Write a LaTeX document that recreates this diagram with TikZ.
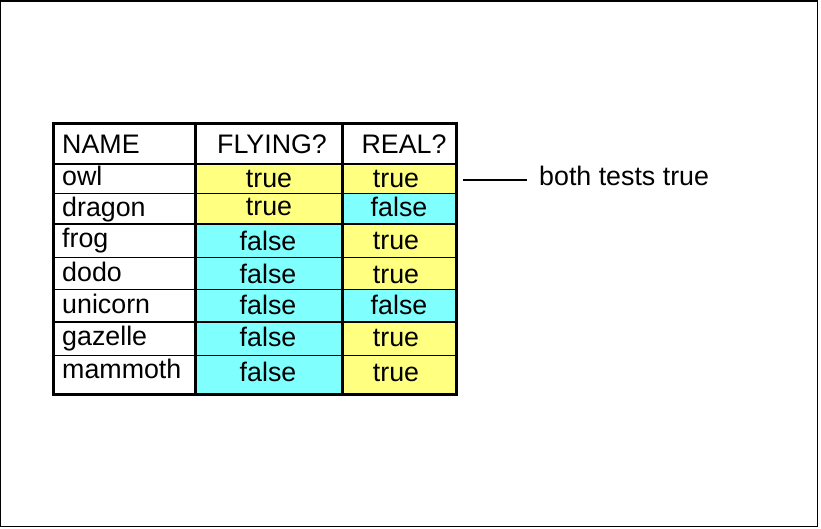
\documentclass[tikz,border=0pt]{standalone}
\usepackage{fontspec}
\setmainfont{Liberation Sans}
\definecolor{cyel}{RGB}{255,255,128}
\definecolor{ccyan}{RGB}{128,255,255}
\begin{document}
\begin{tikzpicture}[x=1pt,y=-1pt,
  txt/.style={inner sep=0pt,font=\fontsize{26.8}{31}\selectfont},
  namecell/.style={txt,anchor=base west},
  valcell/.style={txt,anchor=base},
  thick border/.style={line width=3pt},
  thin rule/.style={line width=1.2pt}]
\useasboundingbox (0,0) rectangle (821,529);
\draw[line width=1.2pt] (0.6,1.1) rectangle (817.5,526.5);
% coloured cells
\def\xL{53}\def\xA{195.7}\def\xB{342.7}\def\xR{456.3}
\def\yT{123.5}\def\yH{164}\def\yBot{394.7}
% column 2
\fill[cyel]  (\xA,\yH) rectangle (\xB,224);
\fill[ccyan] (\xA,224) rectangle (\xB,\yBot);
% column 3
\fill[cyel]  (\xB,\yH) rectangle (\xR,193.5);
\fill[ccyan] (\xB,193.5) rectangle (\xR,224);
\fill[cyel]  (\xB,224) rectangle (\xR,289.3);
\fill[ccyan] (\xB,289.3) rectangle (\xR,322);
\fill[cyel]  (\xB,322) rectangle (\xR,\yBot);
% thin row rules
\foreach \yy in {164,193.5,224,257.3,289.3,322,355.3}
  \draw[thin rule] (\xL,\yy) -- (\xR,\yy);
% thick lines
\draw[thick border] (\xA,\yT) -- (\xA,\yBot);
\draw[thick border] (\xB,\yT) -- (\xB,\yBot);
\draw[thick border] (\xL,\yT) rectangle (\xR,\yBot);
% header
\node[namecell] (hname) at (62,153.3) {NAME};
\node[valcell] (hfly) at (272,153.3) {FLYING?};
\node[valcell] (hreal) at (404,153.3) {REAL?};
% names
\node[namecell] (n1) at (62,185.7) {owl};
\node[namecell] (n2) at (62,216.7) {dragon};
\node[namecell] (n3) at (62,247.3) {frog};
\node[namecell] (n4) at (62,281.7) {dodo};
\node[namecell] (n5) at (62,313.3) {unicorn};
\node[namecell] (n6) at (62,345) {gazelle};
\node[namecell] (n7) at (62,378.3) {mammoth};
% flying
\node[valcell] (f1) at (269,188) {true};
\node[valcell] (f2) at (269,216) {true};
\node[valcell] (f3) at (268,250.7) {false};
\node[valcell] (f4) at (268,283.3) {false};
\node[valcell] (f5) at (268,314) {false};
\node[valcell] (f6) at (268,346.7) {false};
\node[valcell] (f7) at (268,381.7) {false};
% real
\node[valcell] (r1) at (396,187.3) {true};
\node[valcell] (r2) at (399,216.7) {false};
\node[valcell] (r3) at (396,250) {true};
\node[valcell] (r4) at (396,283.3) {true};
\node[valcell] (r5) at (399,314) {false};
\node[valcell] (r6) at (396,346.7) {true};
\node[valcell] (r7) at (396,381.7) {true};
% label
\node[namecell] (lbl) at (539,186) {both tests true};
\coordinate (ls) at (463,180);
\coordinate (le) at (527.3,180);
\draw[line width=2.2pt] (ls) -- (le);
\end{tikzpicture}
\end{document}
